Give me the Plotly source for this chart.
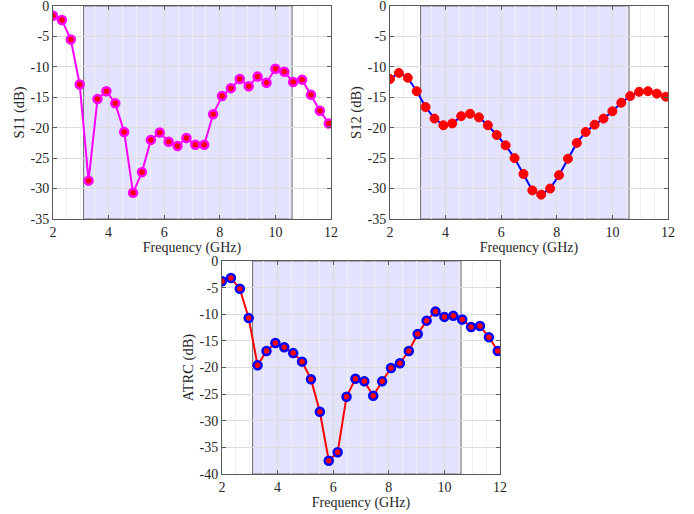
import plotly.graph_objects as go

freq = [2.00, 2.32, 2.64, 2.96, 3.28, 3.60, 3.92, 4.24, 4.56, 4.88, 5.20, 5.52,
        5.84, 6.16, 6.48, 6.80, 7.12, 7.44, 7.76, 8.08, 8.40, 8.72, 9.04, 9.36,
        9.68, 10.00, 10.32, 10.64, 10.96, 11.28, 11.60, 11.92]

s11 = [-1.6, -2.3, -5.5, -12.9, -28.7, -15.3, -14.0, -16.0, -20.7, -30.7, -27.3, -22.0,
       -20.8, -22.3, -23.0, -21.7, -22.8, -22.8, -17.8, -14.8, -13.5, -12.0, -13.2, -11.6,
       -12.6, -10.3, -10.8, -12.5, -12.1, -14.6, -17.2, -19.3]

s12 = [-12.0, -11.0, -11.8, -14.0, -16.6, -18.5, -19.6, -19.3, -18.1, -17.7, -18.3, -19.6,
       -21.2, -22.9, -25.0, -27.6, -30.3, -31.0, -30.0, -27.8, -25.1, -22.5, -20.7, -19.5,
       -18.5, -17.3, -15.9, -14.8, -14.1, -14.0, -14.4, -14.9]

atrc = [-3.8, -3.2, -5.2, -10.7, -19.6, -16.9, -15.4, -16.2, -17.3, -18.9, -22.2, -28.3,
        -37.5, -35.9, -25.5, -22.1, -22.6, -25.3, -22.6, -20.1, -19.2, -16.9, -13.7, -11.2,
        -9.5, -10.5, -10.3, -11.0, -12.4, -12.2, -14.3, -16.9]

band = [3.1, 10.6]

x_ticks = [2, 4, 6, 8, 10, 12]
x_ticktext = ["2", "4", "6", "8", "10", "12"]
y_ticks_top = [0, -5, -10, -15, -20, -25, -30, -35]
y_ticktext_top = ["0", "-5", "-10", "-15", "-20", "-25", "-30", "-35"]
y_ticks_bot = [0, -5, -10, -15, -20, -25, -30, -35, -40]
y_ticktext_bot = ["0", "-5", "-10", "-15", "-20", "-25", "-30", "-35", "-40"]

FONT = "Liberation Serif"
W, H = 694, 514

fig = go.Figure()

# S11
fig.add_trace(go.Scatter(x=freq, y=s11, mode="lines+markers", xaxis="x", yaxis="y",
                         line=dict(color="#ff00ff", width=2),
                         marker=dict(color="#ff0000", size=8, line=dict(color="#ff00ff", width=2.5)),
                         showlegend=False))
# S12
fig.add_trace(go.Scatter(x=freq, y=s12, mode="lines+markers", xaxis="x2", yaxis="y2",
                         line=dict(color="#0000ff", width=2),
                         marker=dict(color="#ff0000", size=9, line=dict(color="#ff0000", width=1)),
                         showlegend=False))
# ATRC
fig.add_trace(go.Scatter(x=freq, y=atrc, mode="lines+markers", xaxis="x3", yaxis="y3",
                         line=dict(color="#ff0000", width=2),
                         marker=dict(color="#ff0000", size=8, line=dict(color="#0000ff", width=2.5)),
                         showlegend=False))


def px_dom_x(a, b):
    return [a / W, b / W]


def px_dom_y(top, bottom):
    return [1 - bottom / H, 1 - top / H]


def xaxis(dom, anchor):
    return dict(domain=dom, anchor=anchor, range=[2, 12], tickvals=x_ticks, ticktext=x_ticktext,
                automargin=False, ticklabeloverflow="allow",
                showgrid=True, gridcolor="#dcdcdc", gridwidth=1,
                minor=dict(dtick=0.5, tick0=2, showgrid=True, gridcolor="#f0f0f0", gridwidth=1),
                showline=True, linecolor="#5a5a5a", linewidth=1, mirror="ticks",
                ticks="inside", ticklen=4, tickcolor="#5a5a5a",
                zeroline=False,
                tickfont=dict(family=FONT, size=14, color="#262626"),
                title=dict(text="Frequency (GHz)", font=dict(family=FONT, size=14, color="#262626"), standoff=3))


def yaxis(dom, anchor, rng, tv, tt, title):
    return dict(domain=dom, anchor=anchor, range=rng, tickvals=tv, ticktext=tt,
                automargin=False, ticklabeloverflow="allow",
                showgrid=True, gridcolor="#dcdcdc", gridwidth=1,
                showline=True, linecolor="#5a5a5a", linewidth=1, mirror="ticks",
                ticks="inside", ticklen=4, tickcolor="#5a5a5a",
                zeroline=False,
                tickfont=dict(family=FONT, size=14, color="#262626"),
                title=dict(text=title, font=dict(family=FONT, size=14.5, color="#262626"), standoff=2))


top_dom = px_dom_y(6, 219)
bot_dom = px_dom_y(261, 474)

fig.update_layout(
    width=W, height=H,
    margin=dict(l=0, r=0, t=0, b=0),
    paper_bgcolor="white", plot_bgcolor="white",
    font=dict(family=FONT),
    xaxis=xaxis(px_dom_x(53, 331), "y"),
    yaxis=yaxis(top_dom, "x", [-35, 0], y_ticks_top, y_ticktext_top, "S11 (dB)"),
    xaxis2=xaxis(px_dom_x(390, 668), "y2"),
    yaxis2=yaxis(top_dom, "x2", [-35, 0], y_ticks_top, y_ticktext_top, "S12 (dB)"),
    xaxis3=xaxis(px_dom_x(222, 500), "y3"),
    yaxis3=yaxis(bot_dom, "x3", [-40, 0], y_ticks_bot, y_ticktext_bot, "ATRC (dB)"),
)

for xr, yr in [("x", "y domain"), ("x2", "y2 domain"), ("x3", "y3 domain")]:
    fig.add_shape(type="rect", xref=xr, yref=yr, x0=band[0], x1=band[1], y0=0, y1=1,
                  fillcolor="rgba(0,0,255,0.11)", line=dict(color="#6e6e6e", width=1),
                  layer="below")

fig.write_html("out.html", config={"displayModeBar": False},
               post_script="document.body.style.margin='0';document.body.style.overflow='hidden';")
